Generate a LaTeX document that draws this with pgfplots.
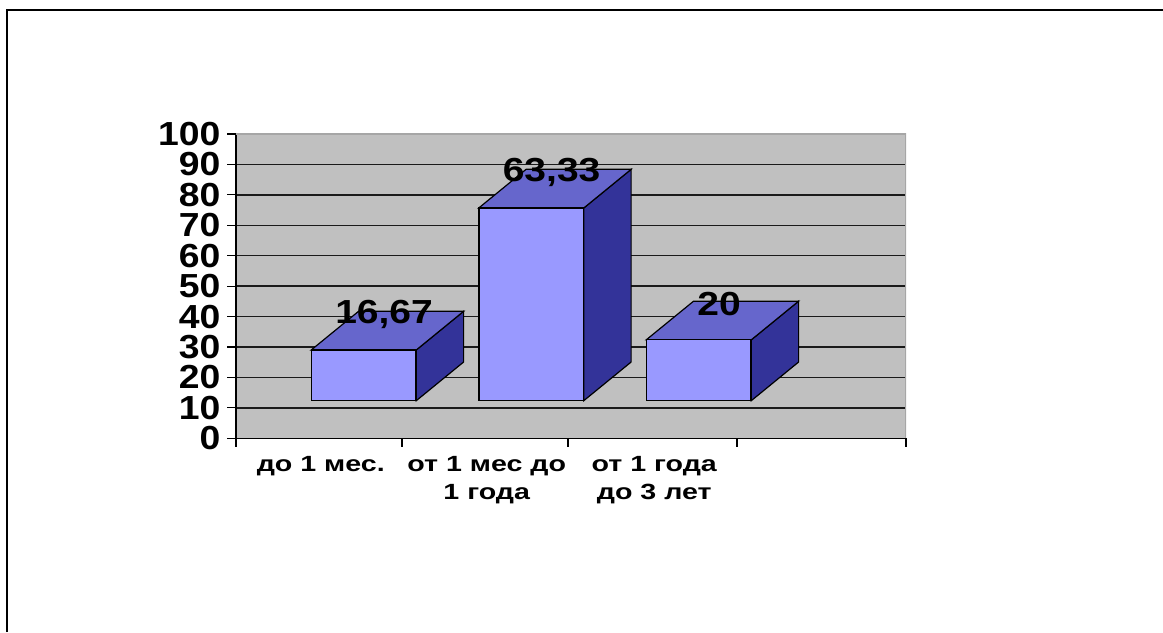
\documentclass[border=0pt]{standalone}
\usepackage{fontspec}
\setmainfont{Liberation Sans}
\usepackage{pgfplots}
\pgfplotsset{compat=1.18}
\definecolor{wall}{HTML}{C0C0C0}
\definecolor{front}{HTML}{9999FF}
\definecolor{topface}{HTML}{6666CC}
\definecolor{sideface}{HTML}{333399}
\definecolor{gridc}{HTML}{1A1A1A}
\definecolor{edgec}{HTML}{A6A6A6}
\begin{document}
\begin{tikzpicture}
% page frame: 1 px = 0.75 pt
\path[use as bounding box] (0,0) rectangle (872.25pt,474pt);
\draw[black,line width=1.6pt] (5.3pt,0) -- (5.3pt,466.5pt) -- (872.25pt,466.5pt);

% back wall with the value scale
\begin{axis}[
  at={(177pt,145.3pt)}, anchor=south west,
  scale only axis, width=502.5pt, height=228.2pt,
  xmin=0, xmax=4, ymin=0, ymax=100,
  axis lines=left, axis line style={-,black,line width=0.9pt},
  axis background/.style={fill=wall},
  xtick={0,0.991,1.982,2.991,4},
  x tick label as interval,
  xticklabels={{до 1 мес.},{от 1 мес до\\1 года},{от 1 года\\до 3 лет},{}},
  ytick={0,10,...,100},
  ymajorgrids,
  grid style={gridc,line width=1pt},
  tick style={black,line width=0.9pt},
  major tick length=6.5pt,
  tick align=outside,
  /pgf/number format/assume math mode=true,
  yticklabel style={font=\bfseries\fontsize{25}{25}\selectfont,xscale=1.12,inner sep=0pt,xshift=-4.5pt},
  xticklabel style={font=\bfseries\fontsize{16.5}{21}\selectfont,align=center,xscale=1.3,inner sep=0pt,yshift=-7pt,xshift=1pt},
]
\draw[edgec,line width=0.9pt] (rel axis cs:0,1) -- (rel axis cs:1,1) -- (rel axis cs:1,0);
\end{axis}

% bars: same pixel scale as the wall, with the floor of the front plane at value 0
\begin{axis}[
  at={(177pt,145.3pt)}, anchor=south west,
  scale only axis, width=502.5pt, height=228.2pt,
  xmin=0, xmax=4, ymin=-12.36, ymax=87.64,
  axis lines=none, clip=false,
  /pgf/number format/assume math mode=true,
]
% right side faces
\addplot[fill=sideface,draw=black,line width=0.9pt] coordinates {(1.0765,0)(1.3589,12.7)(1.3589,29.37)(1.0765,16.67)} -- cycle;
\addplot[fill=sideface,draw=black,line width=0.9pt] coordinates {(2.0765,0)(2.3589,12.7)(2.3589,76.03)(2.0765,63.33)} -- cycle;
\addplot[fill=sideface,draw=black,line width=0.9pt] coordinates {(3.0765,0)(3.3589,12.7)(3.3589,32.7)(3.0765,20)} -- cycle;
% top faces
\addplot[fill=topface,draw=black,line width=0.9pt] coordinates {(0.4495,16.67)(1.0765,16.67)(1.3589,29.37)(0.7319,29.37)} -- cycle;
\addplot[fill=topface,draw=black,line width=0.9pt] coordinates {(1.4495,63.33)(2.0765,63.33)(2.3589,76.03)(1.7319,76.03)} -- cycle;
\addplot[fill=topface,draw=black,line width=0.9pt] coordinates {(2.4495,20)(3.0765,20)(3.3589,32.7)(2.7319,32.7)} -- cycle;
% front faces with the value labels
\addplot[ybar,bar width=78.4pt,bar shift=0pt,fill=front,draw=black,line width=0.9pt,
  nodes near coords={\pgfmathprintnumber[fixed,use comma,precision=2]{\pgfplotspointmeta}},
  every node near coord/.append style={font=\bfseries\fontsize{25}{25}\selectfont,text=black,
    anchor=center,xscale=1.17,xshift=13pt,yshift=26.5pt},
] coordinates {(0.763,16.67)(1.763,63.33)(2.763,20)};
\end{axis}
\end{tikzpicture}
\end{document}
